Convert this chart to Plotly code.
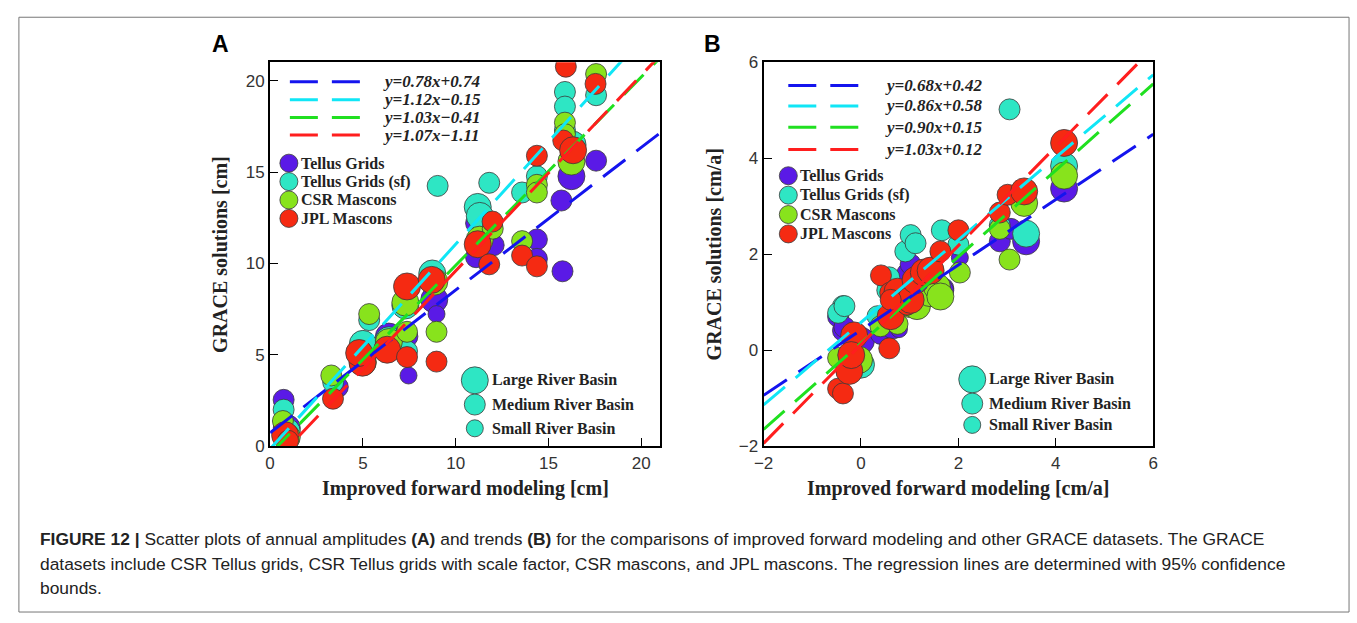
import numpy as np
import plotly.graph_objects as go

W, H = 1357, 623

# ---------------- DATA ----------------
# Size class of river basin: L = large, M = medium, S = small
# Panel A: annual amplitudes [cm]
A_tg_x = [0.73, 0.9, 3.65, 5.0, 6.4, 7.4, 7.46, 8.85, 8.97, 11.1, 11.1, 12.05, 14.38, 14.38, 15.7, 15.76, 16.24, 17.57, 5.3]
A_tg_y = [2.54, 1.0, 3.24, 5.0, 6.0, 6.0, 3.87, 8.03, 7.23, 12.2, 10.34, 11.0, 11.31, 10.25, 13.44, 9.57, 14.77, 15.62, 5.3]
A_tg_s = ['M', 'L', 'M', 'L', 'L', 'M', 'S', 'L', 'S', 'M', 'M', 'M', 'M', 'M', 'M', 'M', 'L', 'M', 'M']

A_sf_x = [0.73, 0.9, 3.4, 5.0, 5.34, 6.4, 7.29, 7.38, 8.74, 9.03, 11.19, 11.3, 11.81, 13.58, 14.38, 15.89, 15.89, 16.3, 17.57, 15.89]
A_sf_y = [2.0, 0.8, 3.5, 5.6, 6.9, 5.8, 7.7, 5.2, 9.45, 14.24, 13.09, 12.6, 14.41, 13.88, 14.77, 19.38, 18.58, 16.5, 19.2, 17.3]
A_sf_s = ['M', 'L', 'M', 'L', 'M', 'L', 'L', 'M', 'L', 'M', 'L', 'L', 'M', 'M', 'M', 'M', 'M', 'L', 'M', 'M']

A_csr_x = [0.69, 0.9, 3.3, 5.0, 5.34, 6.4, 7.29, 7.38, 8.85, 8.97, 11.3, 12.0, 13.58, 14.38, 14.38, 15.89, 15.89, 16.24, 17.57]
A_csr_y = [1.38, 0.5, 3.87, 4.6, 7.23, 5.7, 7.86, 6.26, 9.0, 6.26, 11.3, 11.9, 11.22, 14.3, 13.88, 17.7, 17.07, 15.57, 20.36]
A_csr_s = ['M', 'L', 'M', 'L', 'M', 'L', 'L', 'M', 'L', 'M', 'L', 'M', 'M', 'M', 'M', 'M', 'M', 'L', 'M']

A_jpl_x = [0.81, 0.97, 3.39, 4.98, 4.8, 6.31, 7.38, 7.38, 8.71, 8.97, 11.19, 11.99, 11.81, 13.58, 14.38, 14.38, 15.8, 15.94, 16.33, 17.54]
A_jpl_y = [0.6, 0.3, 2.6, 4.57, 5.1, 5.28, 8.74, 4.88, 9.1, 4.63, 11.05, 12.29, 9.95, 10.43, 9.84, 15.89, 16.72, 20.76, 16.19, 19.82]
A_jpl_s = ['L', 'M', 'M', 'L', 'L', 'L', 'L', 'M', 'L', 'M', 'L', 'M', 'M', 'M', 'M', 'M', 'M', 'M', 'L', 'M']

# Panel B: trends [cm/a]
B_tg_x = [-0.47, -0.37, -0.34, 0.0, 0.41, 0.65, 0.78, 0.88, 0.95, 1.02, 1.2, 1.69, 2.03, 2.85, 3.08, 3.39, 4.17, 1.69]
B_tg_y = [0.7, 0.41, 0.48, 0.2, 0.34, 0.45, 0.44, 1.45, 1.6, 1.79, 1.5, 1.29, 1.93, 2.27, 2.53, 2.27, 3.37, 1.25]
B_tg_s = ['M', 'M', 'M', 'L', 'M', 'M', 'S', 'M', 'M', 'M', 'L', 'M', 'S', 'M', 'M', 'L', 'L', 'M']

B_sf_x = [-0.37, -0.47, -0.34, 0.0, 0.34, 0.58, 0.54, 0.91, 1.02, 1.12, 1.66, 2.0, 1.2, 3.05, 3.39, 4.17, 2.85]
B_sf_y = [0.92, 0.78, 0.92, -0.3, 0.71, 1.52, 1.25, 2.06, 2.4, 2.23, 2.5, 2.2, 1.5, 5.02, 2.43, 3.84, 2.6]
B_sf_s = ['M', 'M', 'M', 'L', 'M', 'M', 'M', 'M', 'M', 'M', 'M', 'M', 'L', 'M', 'L', 'L', 'M']

B_csr_x = [-0.47, -0.04, -0.25, 0.4, 0.75, 1.0, 1.15, 1.42, 1.56, 1.63, 2.03, 2.85, 3.05, 3.35, 4.17, 0.9]
B_csr_y = [-0.16, -0.2, -0.1, 0.5, 0.55, 0.9, 0.92, 1.19, 1.32, 1.12, 1.62, 2.53, 1.89, 3.07, 3.64, 1.0]
B_csr_s = ['M', 'L', 'M', 'M', 'M', 'M', 'L', 'L', 'L', 'L', 'M', 'M', 'M', 'L', 'L', 'L']

B_jpl_x = [-0.47, -0.37, -0.14, -0.24, -0.2, 0.58, 0.41, 0.61, 0.6, 0.75, 0.95, 1.02, 1.12, 1.29, 1.43, 1.63, 2.0, 2.85, 3.01, 3.35, 4.17, 0.61]
B_jpl_y = [-0.8, -0.9, 0.31, -0.43, -0.1, 0.04, 1.56, 0.71, 1.2, 1.22, 0.95, 1.05, 1.46, 1.62, 1.66, 2.06, 2.5, 2.87, 3.24, 3.31, 4.32, 1.05]
B_jpl_s = ['M', 'M', 'L', 'L', 'L', 'M', 'M', 'L', 'M', 'L', 'M', 'L', 'L', 'L', 'L', 'M', 'M', 'M', 'M', 'L', 'L', 'M']

# Regression lines (slope, intercept)
A_slopes = [0.78, 1.12, 1.03, 1.07]
A_intercepts = [0.74, -0.15, -0.41, -1.11]
A_eq_labels = ["y=0.78x+0.74", "y=1.12x\u22120.15", "y=1.03x\u22120.41", "y=1.07x\u22121.11"]
B_slopes = [0.68, 0.86, 0.90, 1.03]
B_intercepts = [0.42, 0.58, 0.15, 0.12]
B_eq_labels = ["y=0.68x+0.42", "y=0.86x+0.58", "y=0.90x+0.15", "y=1.03x+0.12"]

dataset_names = ["Tellus Grids", "Tellus Grids (sf)", "CSR Mascons", "JPL Mascons"]
size_names = ["Large River Basin", "Medium River Basin", "Small River Basin"]

A_range = [0, 21]
A_ticks = [0, 5, 10, 15, 20]
B_range = [-2, 6]
B_ticks = [-2, 0, 2, 4, 6]

# ---------------- STYLE ----------------
marker_colors = ["#5a1ae6", "#2ee6c4", "#88e31c", "#f52a12"]
line_colors = ["#1414ee", "#10e6f6", "#20e020", "#ff1e1e"]
size_px = {'L': 27, 'M': 21, 'S': 17}
DASH = "28px,14px"

def px_x(p):
    return p / W

def px_y(p):
    return 1 - p / H

fig = go.Figure()

panels = [
    dict(xa="x", ya="y",
         data=[(A_tg_x, A_tg_y, A_tg_s), (A_sf_x, A_sf_y, A_sf_s),
               (A_csr_x, A_csr_y, A_csr_s), (A_jpl_x, A_jpl_y, A_jpl_s)],
         slopes=A_slopes, inters=A_intercepts, rng=A_range),
    dict(xa="x2", ya="y2",
         data=[(B_tg_x, B_tg_y, B_tg_s), (B_sf_x, B_sf_y, B_sf_s),
               (B_csr_x, B_csr_y, B_csr_s), (B_jpl_x, B_jpl_y, B_jpl_s)],
         slopes=B_slopes, inters=B_intercepts, rng=B_range),
]

for p in panels:
    for i, (xs, ys, ss) in enumerate(p["data"]):
        fig.add_trace(go.Scatter(
            x=xs, y=ys, mode="markers", xaxis=p["xa"], yaxis=p["ya"],
            showlegend=False, name=dataset_names[i],
            marker=dict(size=[size_px[s] for s in ss], color=marker_colors[i],
                        line=dict(color="#3a3a3a", width=0.8), opacity=1),
        ))
    for i, (a, b) in enumerate(zip(p["slopes"], p["inters"])):
        xx = np.array(p["rng"], dtype=float)
        fig.add_trace(go.Scatter(
            x=xx, y=a * xx + b, mode="lines", xaxis=p["xa"], yaxis=p["ya"],
            showlegend=False, hoverinfo="skip",
            line=dict(color=line_colors[i], width=3, dash=DASH),
        ))

axis_common = dict(showgrid=False, zeroline=False, showline=True, mirror=True,
                   linecolor="black", linewidth=2, ticks="inside", ticklen=8,
                   tickwidth=1, tickcolor="black",
                   tickfont=dict(family="Liberation Sans, Arial", size=17, color="#333"))

fig.update_layout(
    width=W, height=H, margin=dict(l=0, r=0, t=0, b=0),
    paper_bgcolor="white", plot_bgcolor="white", showlegend=False,
    xaxis=dict(domain=[px_x(263), px_x(657)], range=A_range, tickvals=A_ticks, anchor="y", **axis_common),
    yaxis=dict(domain=[px_y(451), px_y(55)], range=A_range, tickvals=A_ticks, anchor="x", **axis_common),
    xaxis2=dict(domain=[px_x(762), px_x(1156)], range=B_range, tickvals=B_ticks, anchor="y2", **axis_common),
    yaxis2=dict(domain=[px_y(451), px_y(55)], range=B_range, tickvals=B_ticks, anchor="x2", **axis_common),
)

shapes = []
ann = []
serif = "Liberation Serif, Times New Roman, serif"

def text(x, y, t, size, family=serif, xanchor="left", color="#222", angle=0):
    ann.append(dict(x=px_x(x), y=px_y(y), xref="paper", yref="paper", text=t,
                    showarrow=False, xanchor=xanchor, yanchor="middle", textangle=angle,
                    font=dict(family=family, size=size, color=color)))

def circle(cx, cy, d, color):
    shapes.append(dict(type="circle", xref="paper", yref="paper",
                       xsizemode="pixel", ysizemode="pixel",
                       xanchor=px_x(cx), yanchor=px_y(cy),
                       x0=-d / 2, x1=d / 2, y0=-d / 2, y1=d / 2,
                       fillcolor=color, line=dict(color="#3a3a3a", width=0.8)))

# legends per panel
leg = [
    dict(eq=A_eq_labels, lx0=283, lx1=356, tx=375, ey=[75, 93.5, 112, 130],
         mx=282, mtx=292, my=[159, 178, 197, 216],
         sx=470, stx=485, sy=[383, 408, 432.5]),
    dict(eq=B_eq_labels, lx0=787, lx1=860, tx=883, ey=[79, 100, 122, 145],
         mx=787, mtx=797, my=[172, 192, 212, 232],
         sx=973, stx=988, sy=[382, 407, 429]),
]
for L in leg:
    for i, lab in enumerate(L["eq"]):
        shapes.append(dict(type="line", xref="paper", yref="paper",
                           x0=px_x(L["lx0"]), x1=px_x(L["lx1"]),
                           y0=px_y(L["ey"][i]), y1=px_y(L["ey"][i]),
                           line=dict(color=line_colors[i], width=3, dash=DASH)))
        text(L["tx"], L["ey"][i], "<b><i>%s</i></b>" % lab, 17)
    for i, lab in enumerate(dataset_names):
        circle(L["mx"], L["my"][i], 18, marker_colors[i])
        text(L["mtx"], L["my"][i], "<b>%s</b>" % lab, 16)
    for i, (lab, k) in enumerate(zip(size_names, ['L', 'M', 'S'])):
        circle(L["sx"], L["sy"][i], size_px[k], marker_colors[1])
        text(L["stx"], L["sy"][i], "<b>%s</b>" % lab, 16)

# axis titles
text(461, 495, "<b>Improved forward modeling [cm]</b>", 20, xanchor="center")
text(959, 495, "<b>Improved forward modeling [cm/a]</b>", 20, xanchor="center")
text(213, 253, "<b>GRACE solutions [cm]</b>", 20, xanchor="center", angle=-90)
text(712, 253, "<b>GRACE solutions [cm/a]</b>", 20, xanchor="center", angle=-90)

# panel letters
sans = "Liberation Sans, Arial, sans-serif"
text(213, 36, "<b>A</b>", 23, family=sans, xanchor="center", color="black")
text(710, 36, "<b>B</b>", 23, family=sans, xanchor="center", color="black")

# caption
cap = [
    "<b>FIGURE 12 |</b> Scatter plots of annual amplitudes <b>(A)</b> and trends <b>(B)</b> for the comparisons of improved forward modeling and other GRACE datasets. The GRACE",
    "datasets include CSR Tellus grids, CSR Tellus grids with scale factor, CSR mascons, and JPL mascons. The regression lines are determined with 95% confidence",
    "bounds.",
]
for i, c in enumerate(cap):
    text(28, 547 + 25 * i, c, 17.4, family=sans, color="#222")

# outer frame
shapes.append(dict(type="rect", xref="paper", yref="paper",
                   x0=px_x(9), x1=px_x(1354), y0=px_y(622), y1=px_y(8.5),
                   line=dict(color="#777", width=1)))

fig.update_layout(shapes=shapes, annotations=ann)
fig.write_html("out.html")
